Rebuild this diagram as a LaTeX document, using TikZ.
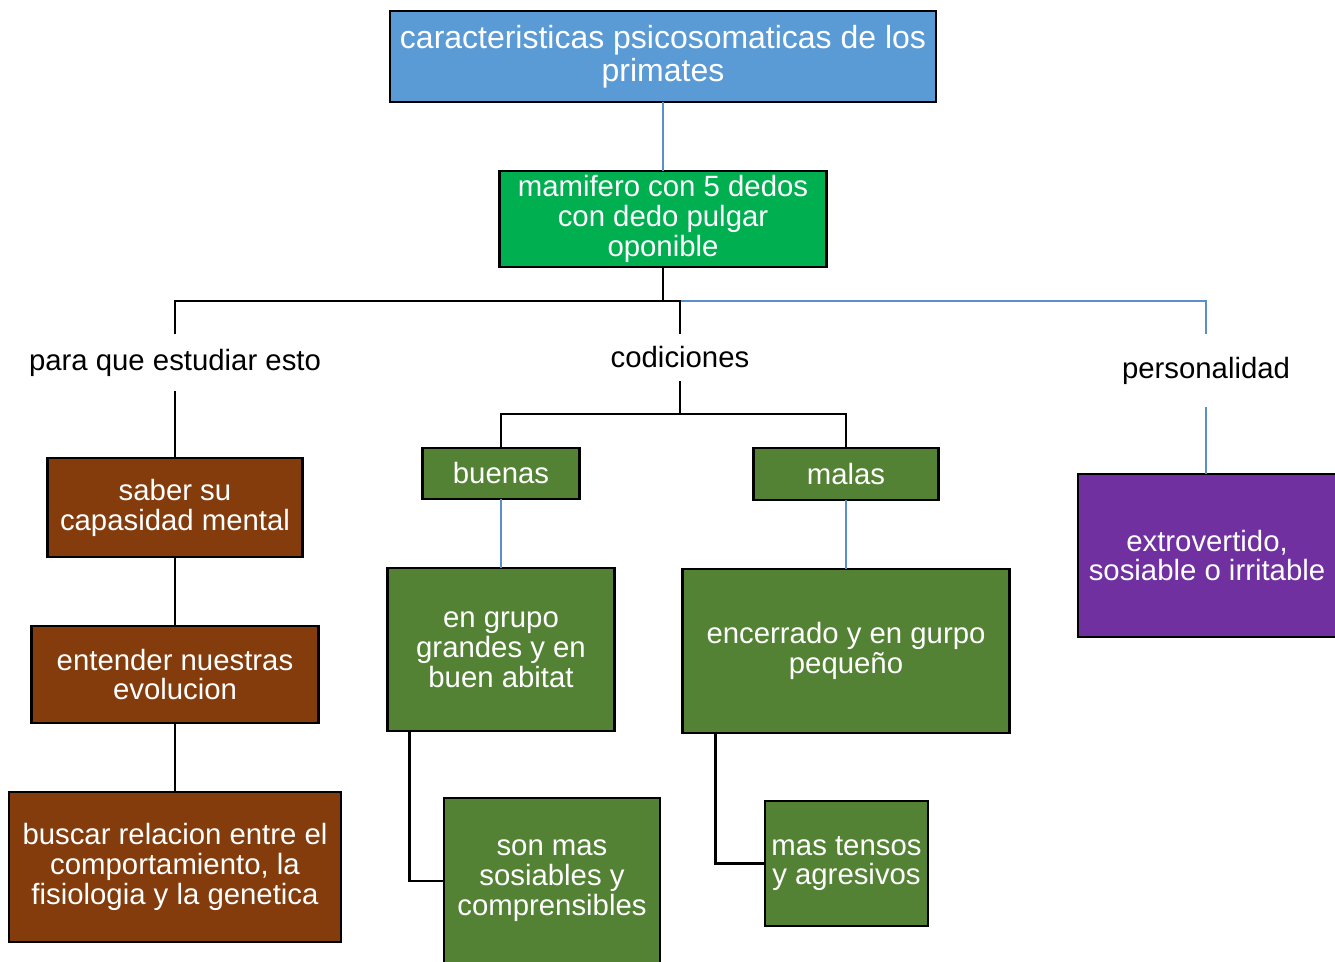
\documentclass[tikz,border=0pt]{standalone}
\usepackage{fontspec}
\setmainfont{Liberation Sans}
\usepackage{xcolor}
\definecolor{boxBlue}{HTML}{5B9BD5}
\definecolor{boxGreen}{HTML}{00B050}
\definecolor{boxOlive}{HTML}{548235}
\definecolor{boxBrown}{HTML}{843C0C}
\definecolor{boxPurple}{HTML}{7030A0}
\definecolor{lineBlue}{HTML}{5A8FC9}
\newlength{\pxlen}
\setlength{\pxlen}{0.02cm}

\begin{document}
\begin{tikzpicture}[x=0.02cm, y=-0.02cm,
    box/.style={draw=black, line width=1.4pt, text=white, align=center, inner sep=0pt, outer sep=0pt,
                font=\fontsize{16.7}{17}\selectfont},
    label/.style={align=center, inner sep=0pt, outer sep=0pt, font=\fontsize{16.7}{17}\selectfont},
    conn/.style={line width=1.3pt, black},
    connBlue/.style={line width=1.3pt, lineBlue}]
    \useasboundingbox (0,0) rectangle (1335,961);

    % top of the map
    \node[box, fill=boxBlue, minimum width=546\pxlen, minimum height=91\pxlen,
          font=\fontsize{18.2}{18.7}\selectfont] (title) at (663,56.5)
          {caracteristicas psicosomaticas de los\\primates};
    \node[box, fill=boxGreen, minimum width=327\pxlen, minimum height=96\pxlen] (mamifero) at (663,219)
          {mamifero con 5 dedos\\con dedo pulgar\\oponible};

    % the three branches
    \node[label, minimum height=57\pxlen] (estudiar) at (175,362.5) {para que estudiar esto};
    \node[label, minimum height=47\pxlen] (codiciones) at (680,357.5) {codiciones};
    \node[label, minimum height=73\pxlen] (personalidad) at (1206,370.5) {personalidad};

    % para que estudiar esto
    \node[box, fill=boxBrown, minimum width=255\pxlen, minimum height=99\pxlen] (saber) at (175,507.5)
          {saber su\\capasidad mental};
    \node[box, fill=boxBrown, minimum width=287\pxlen, minimum height=97\pxlen] (entender) at (175,674.5)
          {entender nuestras\\evolucion};
    \node[box, fill=boxBrown, minimum width=332\pxlen, minimum height=150\pxlen] (buscar) at (175,867)
          {buscar relacion entre el\\comportamiento, la\\fisiologia y la genetica};

    % codiciones
    \node[box, fill=boxOlive, minimum width=157\pxlen, minimum height=51\pxlen] (buenas) at (501,473.5) {buenas};
    \node[box, fill=boxOlive, minimum width=185\pxlen, minimum height=52\pxlen] (malas) at (846,474) {malas};
    \node[box, fill=boxOlive, minimum width=227\pxlen, minimum height=163\pxlen] (grupo) at (501,649.5)
          {en grupo\\grandes y en\\buen abitat};
    \node[box, fill=boxOlive, minimum width=327\pxlen, minimum height=164\pxlen] (encerrado) at (846,651)
          {encerrado y en gurpo\\pequeño};
    \node[box, fill=boxOlive, minimum width=216\pxlen, minimum height=166\pxlen] (sosiables) at (552,881)
          {son mas\\sosiables y\\comprensibles};
    \node[box, fill=boxOlive, minimum width=163\pxlen, minimum height=125\pxlen] (tensos) at (846.5,863.5)
          {mas tensos\\y agresivos};

    % personalidad
    \node[box, fill=boxPurple, minimum width=258\pxlen, minimum height=163\pxlen] (extro) at (1207,555.5)
          {extrovertido,\\sosiable o irritable};

    % connectors
    \coordinate (hub) at (663,301);
    \draw[connBlue] (title.south) -- (mamifero.north);
    \draw[connBlue] (codiciones.north |- hub) -| (personalidad.north);
    \draw[conn] (mamifero.south) -- (hub) -| (estudiar.north);
    \draw[conn] (hub) -| (codiciones.north);
    \draw[connBlue] (personalidad.south) -- (personalidad.south |- extro.north);

    \draw[conn] (estudiar.south) -- (saber.north);
    \draw[conn] (saber.south) -- (entender.north);
    \draw[conn] (entender.south) -- (buscar.north);

    \coordinate (split) at (680,414);
    \draw[conn] (codiciones.south) -- (split);
    \draw[conn] (split) -| (buenas.north);
    \draw[conn] (split) -| (malas.north);
    \draw[connBlue] (buenas.south) -- (grupo.north);
    \draw[connBlue] (malas.south) -- (encerrado.north);
    \draw[conn] ([xshift=22\pxlen]grupo.south west) |- (sosiables.west);
    \draw[conn] ([xshift=33\pxlen]encerrado.south west) |- (tensos.west);
\end{tikzpicture}
\end{document}
